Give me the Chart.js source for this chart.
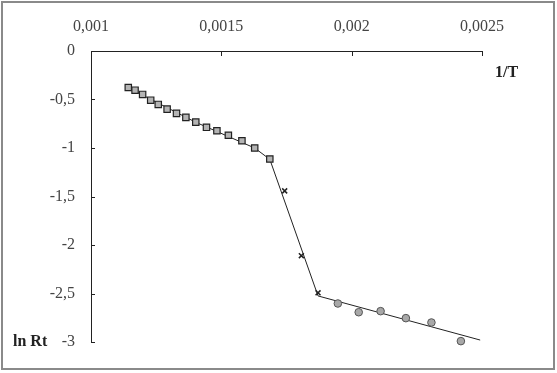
<!DOCTYPE html>
<html>
<head>
<meta charset="utf-8">
<script src="https://cdn.jsdelivr.net/npm/chart.js@4"></script>
<style>
  html, body { margin: 0; padding: 0; background: #fff; }
  canvas { display: block; }
</style>
</head>
<body>
<canvas id="myChart" width="557" height="373"></canvas>
<script>
// squares (high temperature part)
var squareX = [0.001143, 0.001169, 0.001198, 0.001229, 0.001258, 0.001292, 0.001328, 0.001364, 0.001402, 0.001443, 0.001483, 0.001527, 0.001579, 0.001628, 0.001686];
var squareY = [-0.376, -0.404, -0.448, -0.507, -0.551, -0.599, -0.643, -0.684, -0.733, -0.787, -0.822, -0.869, -0.925, -1.0, -1.113];
// crosses (transition)
var crossX = [0.001743, 0.001807, 0.001871];
var crossY = [-1.442, -2.110, -2.493];
// circles (low temperature part)
var circleX = [0.001947, 0.002027, 0.002111, 0.002208, 0.002306, 0.002419];
var circleY = [-2.603, -2.693, -2.682, -2.754, -2.799, -2.991];
// fitted line
var fitX = [0.001143, 0.001402, 0.001628, 0.001686, 0.001871, 0.002493];
var fitY = [-0.38, -0.735, -1.0, -1.117, -2.525, -2.98];

var xTickVals = [0.001, 0.0015, 0.002, 0.0025];
var xTickLabels = ['0,001', '0,0015', '0,002', '0,0025'];
var yTickVals = [0, -0.5, -1, -1.5, -2, -2.5, -3];
var yTickLabels = ['0', '-0,5', '-1', '-1,5', '-2', '-2,5', '-3'];

function pts(xs, ys) {
  var out = [];
  for (var i = 0; i < xs.length; i++) out.push({x: xs[i], y: ys[i]});
  return out;
}

var extras = {
  id: 'extras',
  afterDraw: function(chart) {
    var c = chart.ctx, a = chart.chartArea;
    var xs = chart.scales.x, ys = chart.scales.y;
    c.save();
    // inward tick marks
    c.strokeStyle = '#222';
    c.lineWidth = 1;
    c.beginPath();
    xTickVals.forEach(function(v) {
      var px = Math.round(xs.getPixelForValue(v)) + 0.5;
      c.moveTo(px, a.top);
      c.lineTo(px, a.top + 5);
    });
    yTickVals.forEach(function(v) {
      var py = Math.round(ys.getPixelForValue(v)) + 0.5;
      c.moveTo(a.left, py);
      c.lineTo(a.left + 4, py);
    });
    c.stroke();
    // axis names
    c.fillStyle = '#222';
    c.font = 'bold 16px "Liberation Serif"';
    c.textBaseline = 'middle';
    c.textAlign = 'left';
    c.fillText('1/T', 495, 73);
    c.fillText('ln Rt', 13, 342);
    // frame
    c.strokeStyle = '#8a8a8a';
    c.lineWidth = 2;
    c.strokeRect(2, 2, 552, 367);
    c.restore();
  }
};

var ctx = document.getElementById('myChart').getContext('2d');
var myChart = new Chart(ctx, {
  type: 'scatter',
  data: {
    datasets: [{
      label: 'fit',
      type: 'line',
      data: pts(fitX, fitY),
      borderColor: '#222',
      borderWidth: 1,
      pointRadius: 0,
      fill: false,
      clip: false,
      order: 10
    }, {
      label: 'squares',
      data: pts(squareX, squareY),
      pointStyle: 'rect',
      pointRadius: 4.5,
      backgroundColor: '#b4b4b4',
      borderColor: '#222',
      borderWidth: 1.2,
      clip: false,
      order: 1
    }, {
      label: 'crosses',
      data: pts(crossX, crossY),
      pointStyle: 'crossRot',
      pointRadius: 3.5,
      borderColor: '#222',
      borderWidth: 1.5,
      clip: false,
      order: 1
    }, {
      label: 'circles',
      data: pts(circleX, circleY),
      pointStyle: 'circle',
      pointRadius: 3.8,
      backgroundColor: '#a8a8a8',
      borderColor: '#555',
      borderWidth: 1,
      clip: false,
      order: 1
    }]
  },
  options: {
    responsive: false,
    animation: false,
    layout: { padding: { left: 0, right: 75, top: 0, bottom: 31 } },
    plugins: { legend: { display: false }, tooltip: { enabled: false } },
    scales: {
      x: {
        type: 'linear',
        position: 'top',
        min: 0.001,
        max: 0.0025,
        afterBuildTicks: function(scale) {
          scale.ticks = xTickVals.map(function(v) { return {value: v}; });
        },
        afterFit: function(scale) { scale.height = 51; },
        grid: { display: false, drawTicks: false },
        border: { display: true, color: '#222', width: 1 },
        ticks: {
          padding: 15,
          color: '#444',
          font: { family: '"Liberation Serif"', size: 16 },
          maxRotation: 0,
          callback: function(v, i) { return xTickLabels[i]; }
        }
      },
      y: {
        type: 'linear',
        min: -3,
        max: 0,
        afterBuildTicks: function(scale) {
          scale.ticks = yTickVals.map(function(v) { return {value: v}; });
        },
        afterFit: function(scale) { scale.width = 91; },
        grid: { display: false, drawTicks: false },
        border: { display: true, color: '#222', width: 1 },
        ticks: {
          padding: 16,
          color: '#444',
          font: { family: '"Liberation Serif"', size: 16 },
          callback: function(v, i) { return yTickLabels[i]; }
        }
      }
    }
  },
  plugins: [extras]
});
</script>
</body>
</html>
